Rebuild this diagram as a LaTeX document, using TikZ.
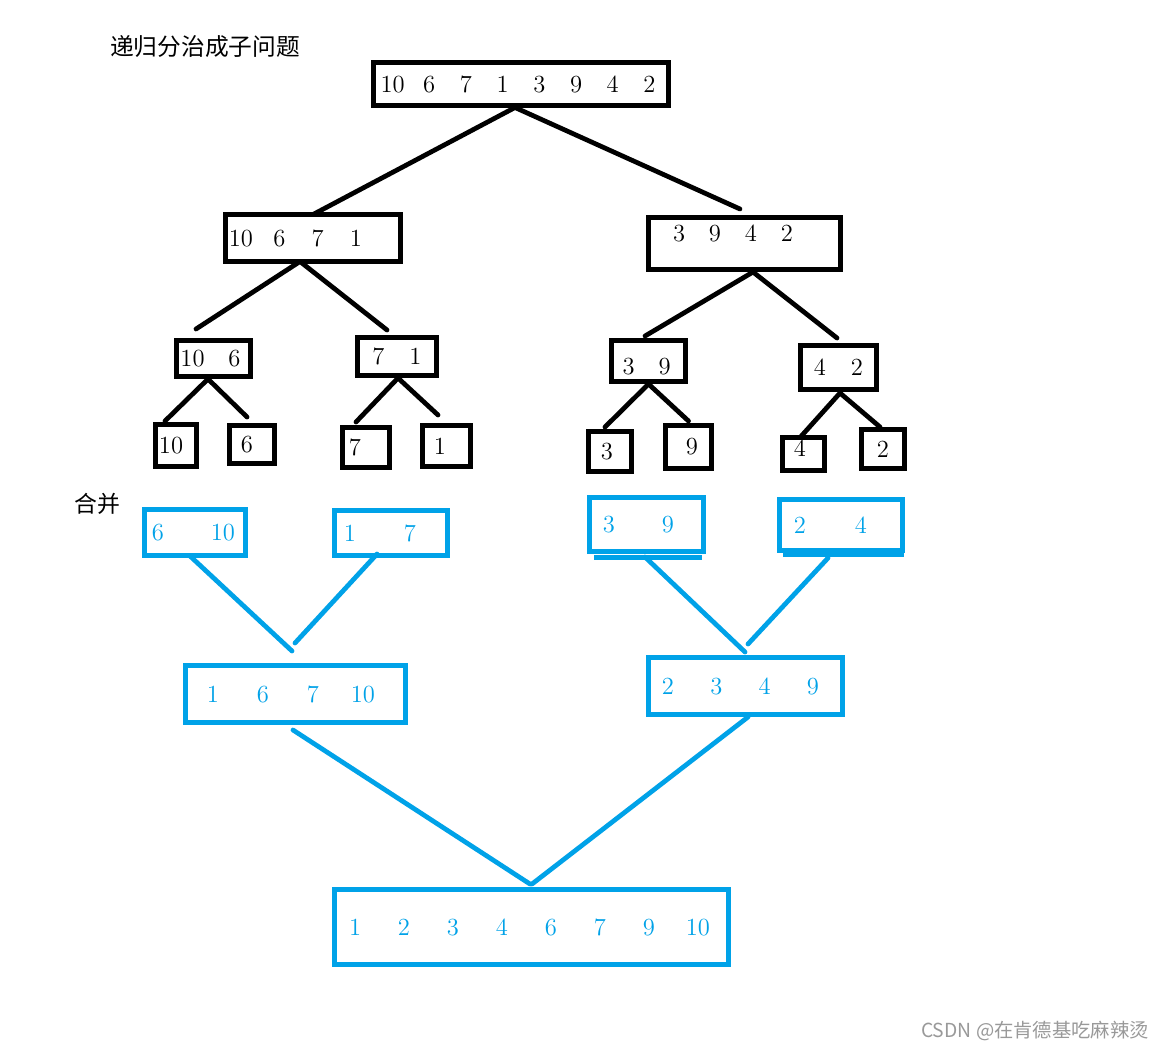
\documentclass[tikz,border=0pt]{standalone}
\usepackage{fontspec}
\newfontfamily\cjk{Noto Sans CJK SC}
\usepackage{xcolor}
\definecolor{paintblue}{HTML}{00A2E8}

% a row of numbers: [trailing pad]{pitch}{list}
\newcommand\cells[3][0pt]{%
  \foreach \n [count=\i] in {#3}{\ifnum\i>1\hspace{#2}\fi\makebox[0pt]{\n}}\hspace*{#1}}

\begin{document}
\begin{tikzpicture}[x=0.02cm, y=-0.02cm,
    sz/.style 2 args={minimum width=#1cm, minimum height=#2cm},
    box/.style={draw=black, line width=2.8pt, inner sep=0pt, outer sep=0pt, font=\fontsize{14}{16}\selectfont},
    bbox/.style={box, draw=paintblue, text=paintblue},
    link/.style={line width=2.7pt, line cap=round},
    blink/.style={link, draw=paintblue},
    bluebar/.style={draw=paintblue, line width=2.8pt}]

  \path[use as bounding box, fill=white] (0,0) rectangle (1165,1052);

  \node[font=\cjk\fontsize{13.5}{16}\selectfont] (title) at (205,47) {递归分治成子问题};
  \node[font=\cjk\fontsize{13}{15}\selectfont] (merge) at (97,504) {合并};
  \node[font=\cjk\fontsize{11}{13}\selectfont, text=black!40] (mark) at (1035,1031) {CSDN @在肯德基吃麻辣烫};

  % split
  \node[box, sz={5.9}{0.86}] (top) at (521,84) {\cells{0.734cm}{10,6,7,1,3,9,4,2}};
  \node[box, sz={3.5}{0.94}] (l) at (313,238) {\cells[0.58cm]{0.767cm}{10,6,7,1}};
  \node[box, sz={3.84}{1.04}, text depth=0.42cm] (r) at (744.5,243.5) {\cells[0.46cm]{0.72cm}{3,9,4,2}};

  \node[box, sz={1.48}{0.72}] (ll) at (213.5,358.5) {\cells{0.84cm}{10,6}};
  \node[box, sz={1.58}{0.76}] (lr) at (397,356.5) {\cells{0.74cm}{7,1}};
  \node[box, sz={1.48}{0.82}, text height=0.56cm] (rl) at (648.5,361) {\cells[0.07cm]{0.72cm}{3,9}};
  \node[box, sz={1.52}{0.88}] (rr) at (838.5,367.5) {\cells{0.74cm}{4,2}};

  \node[box, sz={0.82}{0.84}] (a) at (176,445.5) {10\hspace*{0.2cm}};
  \node[box, sz={0.9}{0.76}] (b) at (252,444.5) {6\hspace*{0.2cm}};
  \node[box, sz={0.94}{0.8}] (c) at (366,447.5) {7\hspace*{0.44cm}};
  \node[box, sz={0.96}{0.82}] (d) at (446.5,446) {1\hspace*{0.26cm}};
  \node[box, sz={0.86}{0.8}] (e) at (610,451.5) {3\hspace*{0.12cm}};
  \node[box, sz={0.92}{0.86}] (f) at (688.5,447) {\hspace*{0.14cm}9};
  \node[box, sz={0.84}{0.66}, text depth=0.24cm] (g) at (803.5,454) {4\hspace*{0.14cm}};
  \node[box, sz={0.86}{0.78}] (h) at (883,449) {2};

  \draw[link] ([shift={(-6,2)}]top.south) -- (l.north);
  \draw[link] ([shift={(-6,2)}]top.south) -- ([shift={(-4.5,-8.5)}]r.north);
  \draw[link] ([shift={(-13,0)}]l.south) -- ([shift={(-17.5,-11.5)}]ll.north);
  \draw[link] ([shift={(-13,0)}]l.south) -- ([shift={(-10,-7.5)}]lr.north);
  \draw[link] ([shift={(8.5,2.5)}]r.south) -- ([shift={(-3.5,-4.5)}]rl.north);
  \draw[link] ([shift={(8.5,2.5)}]r.south) -- ([shift={(-1.5,-7.5)}]rr.north);
  \draw[link] ([shift={(-5.5,2.5)}]ll.south) -- ([shift={(-11,-3.5)}]a.north);
  \draw[link] ([shift={(-5.5,2.5)}]ll.south) -- ([shift={(-5,-8.5)}]b.north);
  \draw[link] ([shift={(1,2.5)}]lr.south) -- ([shift={(-10,-5.5)}]c.north);
  \draw[link] ([shift={(1,2.5)}]lr.south) -- ([shift={(-8.5,-10.5)}]d.north);
  \draw[link] ([shift={(0,2.5)}]rl.south) -- ([shift={(-5,-4.5)}]e.north);
  \draw[link] ([shift={(0,2.5)}]rl.south) -- ([shift={(0,-4.5)}]f.north);
  \draw[link] ([shift={(1.5,3.5)}]rr.south) -- ([shift={(-3.5,0)}]g.north);
  \draw[link] ([shift={(1.5,3.5)}]rr.south) -- ([shift={(-3,-2.5)}]h.north);

  % merge
  \node[bbox, sz={2.02}{0.92}] (la) at (195,532.5) {\cells[0.18cm]{1.3cm}{6,10}};
  \node[bbox, sz={2.26}{0.9}] (lb) at (391,533) {\cells[0.44cm]{1.2cm}{1,7}};
  \node[bbox, sz={2.28}{1.08}] (ra) at (646.5,524.5) {\cells[0.32cm]{1.18cm}{3,9}};
  \node[bbox, sz={2.46}{1.02}] (rb) at (841,525) {\cells[0.42cm]{1.22cm}{2,4}};
  \draw[bluebar] ([shift={(4.5,6)}]ra.south west) -- ([shift={(-1.5,6)}]ra.south east);
  \draw[bluebar] ([shift={(3.5,4.5)}]rb.south west) -- ([shift={(1.5,4.5)}]rb.south east);

  \node[bbox, sz={4.4}{1.14}] (L) at (295.5,694) {\cells[0.3cm]{1.0cm}{1,6,7,10}};
  \node[bbox, sz={3.88}{1.14}] (R) at (745.5,686) {\cells[0.2cm]{0.967cm}{2,3,4,9}};
  \node[bbox, sz={7.88}{1.5}] (F) at (531.5,927) {\cells[0.2cm]{0.98cm}{1,2,3,4,6,7,9,10}};

  \draw[blink] ([shift={(-5,0.5)}]la.south) -- ([shift={(-3.5,-14.5)}]L.north);
  \draw[blink] ([shift={(-14,-1.5)}]lb.south) -- ([shift={(-0.5,-22.5)}]L.north);
  \draw[blink] ([shift={(-1.5,5.5)}]ra.south) -- ([shift={(-0.5,-5.5)}]R.north);
  \draw[blink] ([shift={(-13,7.5)}]rb.south) -- ([shift={(2.5,-13.5)}]R.north);
  \draw[blink] ([shift={(-2.5,7.5)}]L.south) -- ([shift={(-1.5,-5.5)}]F.north);
  \draw[blink] ([shift={(2.5,2.5)}]R.south) -- ([shift={(0.5,-5.5)}]F.north);
\end{tikzpicture}
\end{document}
